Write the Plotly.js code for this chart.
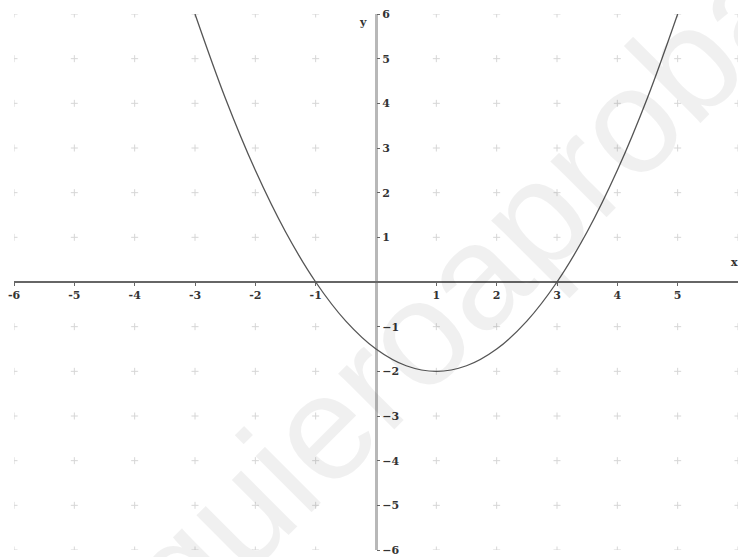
<!DOCTYPE html>
<html>
<head>
<meta charset="utf-8">
<script src="https://cdn.plot.ly/plotly-3.0.1.min.js"></script>
<style>
  body { margin: 0; background: #fff; }
  #graph { width: 738px; height: 557px; }
</style>
</head>
<body>
<div id="graph"></div>
<script>
// parabola (roots -1 and 3, vertex at (1,-2))
var curveX = [-3, -2.5, -2, -1.5, -1, -0.5, 0, 0.5, 1, 1.5, 2, 2.5, 3, 3.5, 4, 4.5, 5];
var curveY = [6, 4.125, 2.5, 1.125, 0, -0.875, -1.5, -1.875, -2, -1.875, -1.5, -0.875, 0, 1.125, 2.5, 4.125, 6];

var xTicks = [-6, -5, -4, -3, -2, -1, 1, 2, 3, 4, 5, 6];
var xTickText = ["-6", "-5", "-4", "-3", "-2", "-1", "1", "2", "3", "4", "5", "6"];
var yTicks = [-6, -5, -4, -3, -2, -1, 1, 2, 3, 4, 5, 6];
var yTickText = ["\u22126", "\u22125", "\u22124", "\u22123", "\u22122", "\u22121", "1", "2", "3", "4", "5", "6"];

// dotted grid at the integer points
var gridX = [], gridY = [];
yTicks.forEach(function (gy) {
  xTicks.forEach(function (gx) {
    gridX.push(gx);
    gridY.push(gy);
  });
});

var grid = {
  x: gridX,
  y: gridY,
  mode: "markers",
  type: "scatter",
  marker: { symbol: "cross-thin", size: 5, line: { color: "#d6d6d6", width: 1 } },
  hoverinfo: "skip"
};

var curve = {
  x: curveX,
  y: curveY,
  mode: "lines",
  type: "scatter",
  line: { color: "#555", width: 1.3, shape: "spline" }
};

var tickFont = { family: "DejaVu Serif", size: 11, color: "#333", weight: "bold" };

var layout = {
  width: 738,
  height: 557,
  margin: { l: 14, r: 0, t: 14, b: 7 },
  paper_bgcolor: "#fff",
  plot_bgcolor: "#fff",
  showlegend: false,
  xaxis: {
    range: [-6, 6],
    anchor: "free",
    position: 0.5,
    showgrid: false,
    showline: false,
    zeroline: true,
    zerolinecolor: "#b8b8b8",
    zerolinewidth: 3,
    tickvals: xTicks,
    ticktext: xTickText,
    ticks: "outside",
    ticklen: 3,
    tickcolor: "#666",
    tickfont: tickFont
  },
  yaxis: {
    range: [-6, 6],
    anchor: "free",
    position: 0.5,
    side: "right",
    showgrid: false,
    showline: false,
    zeroline: true,
    zerolinecolor: "#666",
    zerolinewidth: 1.5,
    tickvals: yTicks,
    ticktext: yTickText,
    ticks: "outside",
    ticklen: 3,
    tickcolor: "#666",
    tickfont: tickFont
  },
  annotations: [
    { x: 5.95, y: 0.25, xref: "x", yref: "y", text: "x", showarrow: false,
      font: tickFont, xanchor: "center", yanchor: "bottom" },
    { x: -0.12, y: 5.8, xref: "x", yref: "y", text: "y", showarrow: false,
      font: tickFont, xanchor: "right", yanchor: "middle" },
    { x: 0.644, y: 0.522, xref: "paper", yref: "paper", text: "quieroaprobar",
      showarrow: false, textangle: -45, xanchor: "center", yanchor: "middle",
      font: { family: "Liberation Sans", size: 150, color: "rgba(0,0,0,0.06)" } }
  ]
};

Plotly.newPlot("graph", [grid, curve], layout, { staticPlot: true });
</script>
</body>
</html>
